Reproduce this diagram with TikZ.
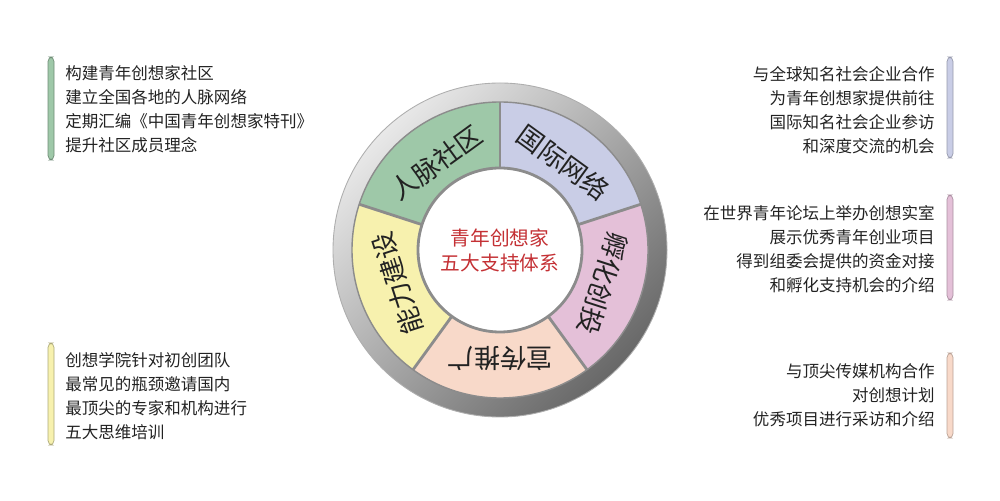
\documentclass[tikz,border=0pt]{standalone}
\usepackage{fontspec}
\newfontfamily\cjk{Noto Sans CJK SC}
\usepackage{xcolor}
\usetikzlibrary{calc}

\definecolor{segGreen}{RGB}{158,200,168}
\definecolor{segBlue}{RGB}{201,205,230}
\definecolor{segPink}{RGB}{228,192,216}
\definecolor{segPeach}{RGB}{248,217,201}
\definecolor{segYellow}{RGB}{247,241,174}
\definecolor{ringLight}{RGB}{232,232,232}
\definecolor{ringDark}{RGB}{104,104,104}
\definecolor{lineGray}{RGB}{140,140,140}
\definecolor{titleRed}{RGB}{196,48,52}
\definecolor{textGray}{RGB}{34,34,34}

\begin{document}
\begin{tikzpicture}[x=0.02cm, y=0.02cm,
    divider/.style={draw=lineGray, line width=1.6pt},
    seglabel/.style={font=\cjk\fontsize{15}{15}\selectfont, text=textGray, inner sep=0pt},
    infotext/.style={font=\cjk\fontsize{9.4}{13.6}\selectfont, text=textGray, inner sep=0pt},
    infobar/.style={rounded corners=2.5pt, line width=0.4pt}]
    \useasboundingbox (0,0) rectangle (1000,500);
    \coordinate (O) at (500,250);
    \shade[even odd rule, top color=ringLight, bottom color=ringDark, shading angle=45]
        (O) circle (167) (O) circle (148);
    \draw[lineGray!70, line width=0.5pt] (O) circle (167);
    \foreach \a/\col in {90/segGreen, 162/segYellow, 234/segPeach, 306/segPink, 18/segBlue}
        \fill[\col] ($(O)+(\a:82)$) -- ($(O)+(\a:148)$)
            arc[start angle=\a, end angle=\a+72, radius=148]
            -- ($(O)+(\a+72:82)$)
            arc[start angle=\a+72, end angle=\a, radius=82] -- cycle;
    \foreach \a in {18,90,162,234,306}
        \draw[divider] ($(O)+(\a:82)$) -- ($(O)+(\a:148)$);
    \draw[lineGray, line width=0.8pt] (O) circle (148);
    \draw[divider, fill=white] (O) circle (82);
    \node[seglabel, rotate=36] (renmai) at ($(O)+(126:108)$) {人脉社区};
    \node[seglabel, rotate=-36] (guoji) at ($(O)+(54:108)$) {国际网络};
    \node[seglabel, rotate=-108] (fuhua) at ($(O)+(-18:108)$) {孵化创投};
    \node[seglabel, rotate=180] (xuanchuan) at ($(O)+(-90:108)$) {宣传推广};
    \node[seglabel, rotate=108] (nengli) at ($(O)+(198:108)$) {能力建设};
    \node[font=\cjk\fontsize{11.2}{14.2}\selectfont, text=titleRed, align=center, inner sep=0pt]
        (title) at (O) {青年创想家\\五大支持体系};
    \draw[infobar, draw=segGreen!70!black, fill=segGreen] (48,443) rectangle (54,340);
    \draw[infobar, draw=segBlue!75!black, fill=segBlue] (947,443) rectangle (953,342);
    \draw[infobar, draw=segPink!75!black, fill=segPink] (947,305) rectangle (953,200);
    \draw[infobar, draw=segYellow!70!black, fill=segYellow] (48,157) rectangle (54,55);
    \draw[infobar, draw=segPeach!75!black, fill=segPeach] (947,147) rectangle (953,62);
    \node[infotext, align=left, anchor=west] (shequ) at (65,391)
        {构建青年创想家社区\\建立全国各地的人脉网络\\定期汇编《中国青年创想家特刊》\\提升社区成员理念};
    \node[infotext, align=right, anchor=east] (wangluo) at (935,390)
        {与全球知名社会企业合作\\为青年创想家提供前往\\国际知名社会企业参访\\和深度交流的机会};
    \node[infotext, align=right, anchor=east] (chuangtou) at (935,251)
        {在世界青年论坛上举办创想实室\\展示优秀青年创业项目\\得到组委会提供的资金对接\\和孵化支持机会的介绍};
    \node[infotext, align=left, anchor=west] (peixun) at (65,104)
        {创想学院针对初创团队\\最常见的瓶颈邀请国内\\最顶尖的专家和机构进行\\五大思维培训};
    \node[infotext, align=right, anchor=east] (meiti) at (935,105)
        {与顶尖传媒机构合作\\对创想计划\\优秀项目进行采访和介绍};
\end{tikzpicture}
\end{document}
